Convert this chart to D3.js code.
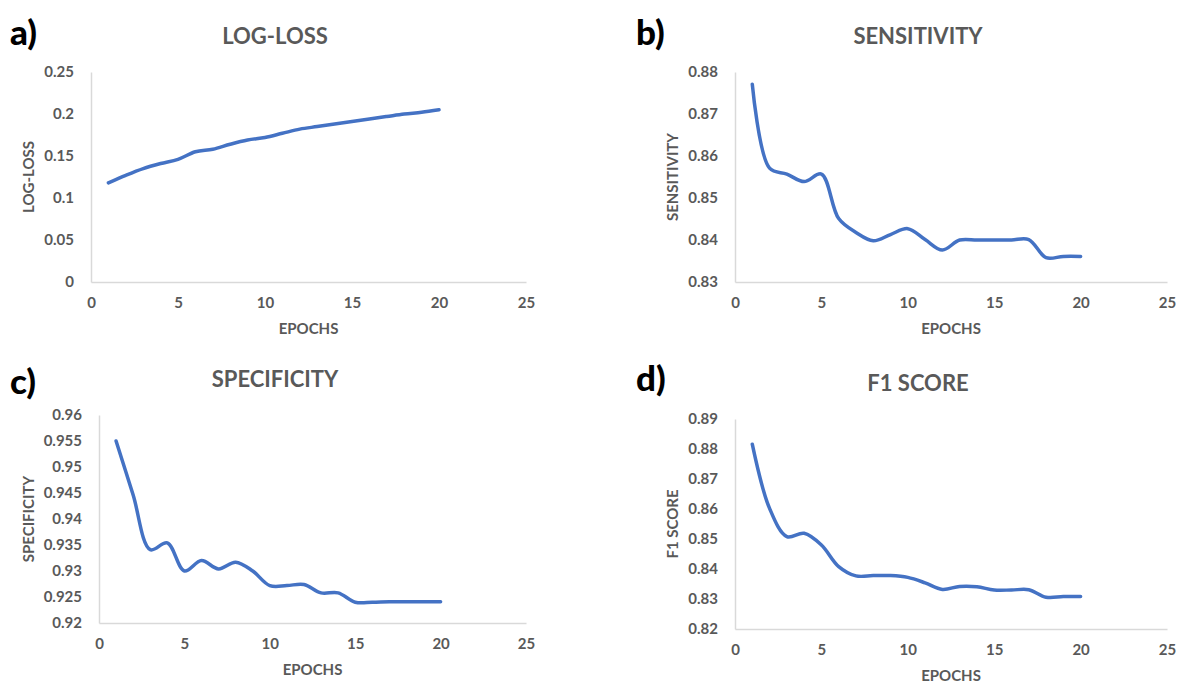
<!DOCTYPE html>
<html>
<head>
<meta charset="utf-8">
<script src="https://cdn.jsdelivr.net/npm/d3@7"></script>
<style>
    body { margin: 0; background: #fff; }
    svg { display: block; }
    .tick text { font-family: Lato, "Open Sans", sans-serif; font-weight: 700; fill: #595959; }
</style>
</head>
<body>
<div id="chart"></div>
<script>
/*global d3*/
(function () {
    "use strict";

    // data
    var epochs = [1, 2, 3, 4, 5, 6, 7, 8, 9, 10, 11, 12, 13, 14, 15, 16, 17, 18, 19, 20],
        logLoss = [0.118, 0.127, 0.135, 0.141, 0.146, 0.155, 0.158, 0.164, 0.169, 0.172,
            0.177, 0.182, 0.185, 0.188, 0.191, 0.194, 0.197, 0.200, 0.202, 0.205],
        sensitivity = [0.8771, 0.8571, 0.8557, 0.8539, 0.8557, 0.8451, 0.8418, 0.8398, 0.8413, 0.8427,
            0.8401, 0.8376, 0.8400, 0.8400, 0.8400, 0.8400, 0.8401, 0.8358, 0.8361, 0.8361],
        specificity = [0.9550, 0.9446, 0.9341, 0.9354, 0.9300, 0.9320, 0.9304, 0.9317, 0.9300, 0.9272,
            0.9272, 0.9274, 0.9258, 0.9258, 0.9240, 0.9240, 0.9241, 0.9241, 0.9241, 0.9241],
        f1Score = [0.8816, 0.8602, 0.8508, 0.8519, 0.8480, 0.8408, 0.8377, 0.8378, 0.8378, 0.8372,
            0.8354, 0.8332, 0.8342, 0.8341, 0.8330, 0.8330, 0.8331, 0.8306, 0.8308, 0.8308],
        xTicks = [0, 5, 10, 15, 20, 25],
        logLossTicks = [0, 0.05, 0.1, 0.15, 0.2, 0.25],
        sensitivityTicks = [0.83, 0.84, 0.85, 0.86, 0.87, 0.88],
        specificityTicks = [0.92, 0.925, 0.93, 0.935, 0.94, 0.945, 0.95, 0.955, 0.96],
        f1Ticks = [0.82, 0.83, 0.84, 0.85, 0.86, 0.87, 0.88, 0.89];

    var width = 1180, height = 685;

    var panels = [
        {tag: "a)", title: "LOG-LOSS", yLabel: "LOG-LOSS", values: logLoss, ticks: logLossTicks,
            left: 91, right: 526, top: 72, bottom: 282, tagX: 10, tagY: 45, titleX: 275, titleY: 44, yLabelX: 29},
        {tag: "b)", title: "SENSITIVITY", yLabel: "SENSITIVITY", values: sensitivity, ticks: sensitivityTicks,
            left: 735, right: 1167, top: 72, bottom: 282, tagX: 636, tagY: 45, titleX: 918, titleY: 44, yLabelX: 673},
        {tag: "c)", title: "SPECIFICITY", yLabel: "SPECIFICITY", values: specificity, ticks: specificityTicks,
            left: 99, right: 526, top: 415, bottom: 623, tagX: 10, tagY: 394, titleX: 275, titleY: 387, yLabelX: 29},
        {tag: "d)", title: "F1 SCORE", yLabel: "F1 SCORE", values: f1Score, ticks: f1Ticks,
            left: 735, right: 1167, top: 419, bottom: 629, tagX: 636, tagY: 391, titleX: 918, titleY: 391, yLabelX: 673}
    ];

    var svg = d3.select("#chart").append("svg")
        .attr("width", width)
        .attr("height", height);

    function fmt(d) {
        return String(+d.toFixed(4));
    }

    panels.forEach(function (p) {
        var g = svg.append("g"),
            x = d3.scaleLinear().domain([0, 25]).range([p.left, p.right]),
            y = d3.scaleLinear().domain([p.ticks[0], p.ticks[p.ticks.length - 1]]).range([p.bottom, p.top]),
            midX = (p.left + p.right) / 2,
            midY = (p.top + p.bottom) / 2,
            line;

        // panel letter
        g.append("text")
            .attr("x", p.tagX)
            .attr("y", p.tagY)
            .style("font-family", "Lato, 'Open Sans', sans-serif")
            .style("font-weight", 900)
            .style("font-size", "35px")
            .style("fill", "#000")
            .text(p.tag);

        // title
        g.append("text")
            .attr("x", p.titleX)
            .attr("y", p.titleY)
            .attr("text-anchor", "middle")
            .style("font-family", "Lato, 'Open Sans', sans-serif")
            .style("font-weight", 700)
            .style("font-size", "22px")
            .style("fill", "#595959")
            .text(p.title);

        // axes
        g.append("g")
            .attr("transform", "translate(0," + p.bottom + ")")
            .call(d3.axisBottom(x).tickValues(xTicks).tickSize(0).tickPadding(15).tickFormat(fmt))
            .call(function (a) {
                a.select(".domain").attr("stroke", "#d9d9d9").attr("stroke-width", 1.5);
                a.selectAll("text").style("font-size", "15px");
            });

        g.append("g")
            .attr("transform", "translate(" + p.left + ",0)")
            .call(d3.axisLeft(y).tickValues(p.ticks).tickSize(0).tickPadding(17).tickFormat(fmt))
            .call(function (a) {
                a.select(".domain").attr("stroke", "#d9d9d9").attr("stroke-width", 1.5);
                a.selectAll("text").style("font-size", "15px");
            });

        // axis titles
        g.append("text")
            .attr("x", midX)
            .attr("y", p.bottom + 52)
            .attr("text-anchor", "middle")
            .style("font-family", "Lato, 'Open Sans', sans-serif")
            .style("font-weight", 700)
            .style("font-size", "15px")
            .style("fill", "#595959")
            .text("EPOCHS");

        g.append("text")
            .attr("transform", "translate(" + (p.yLabelX + 5) + "," + (midY) + ") rotate(-90)")
            .attr("text-anchor", "middle")
            .style("font-family", "Lato, 'Open Sans', sans-serif")
            .style("font-weight", 700)
            .style("font-size", "15px")
            .style("fill", "#595959")
            .text(p.yLabel);

        // series
        line = d3.line()
            .x(function (d, i) {
                return x(epochs[i]);
            })
            .y(function (d) {
                return y(d);
            })
            .curve(d3.curveCatmullRom.alpha(0.5));

        g.append("path")
            .datum(p.values)
            .attr("d", line)
            .attr("fill", "none")
            .attr("stroke", "#4472c4")
            .attr("stroke-width", 3.5)
            .attr("stroke-linecap", "round")
            .attr("stroke-linejoin", "round");
    });
}());
</script>
</body>
</html>
